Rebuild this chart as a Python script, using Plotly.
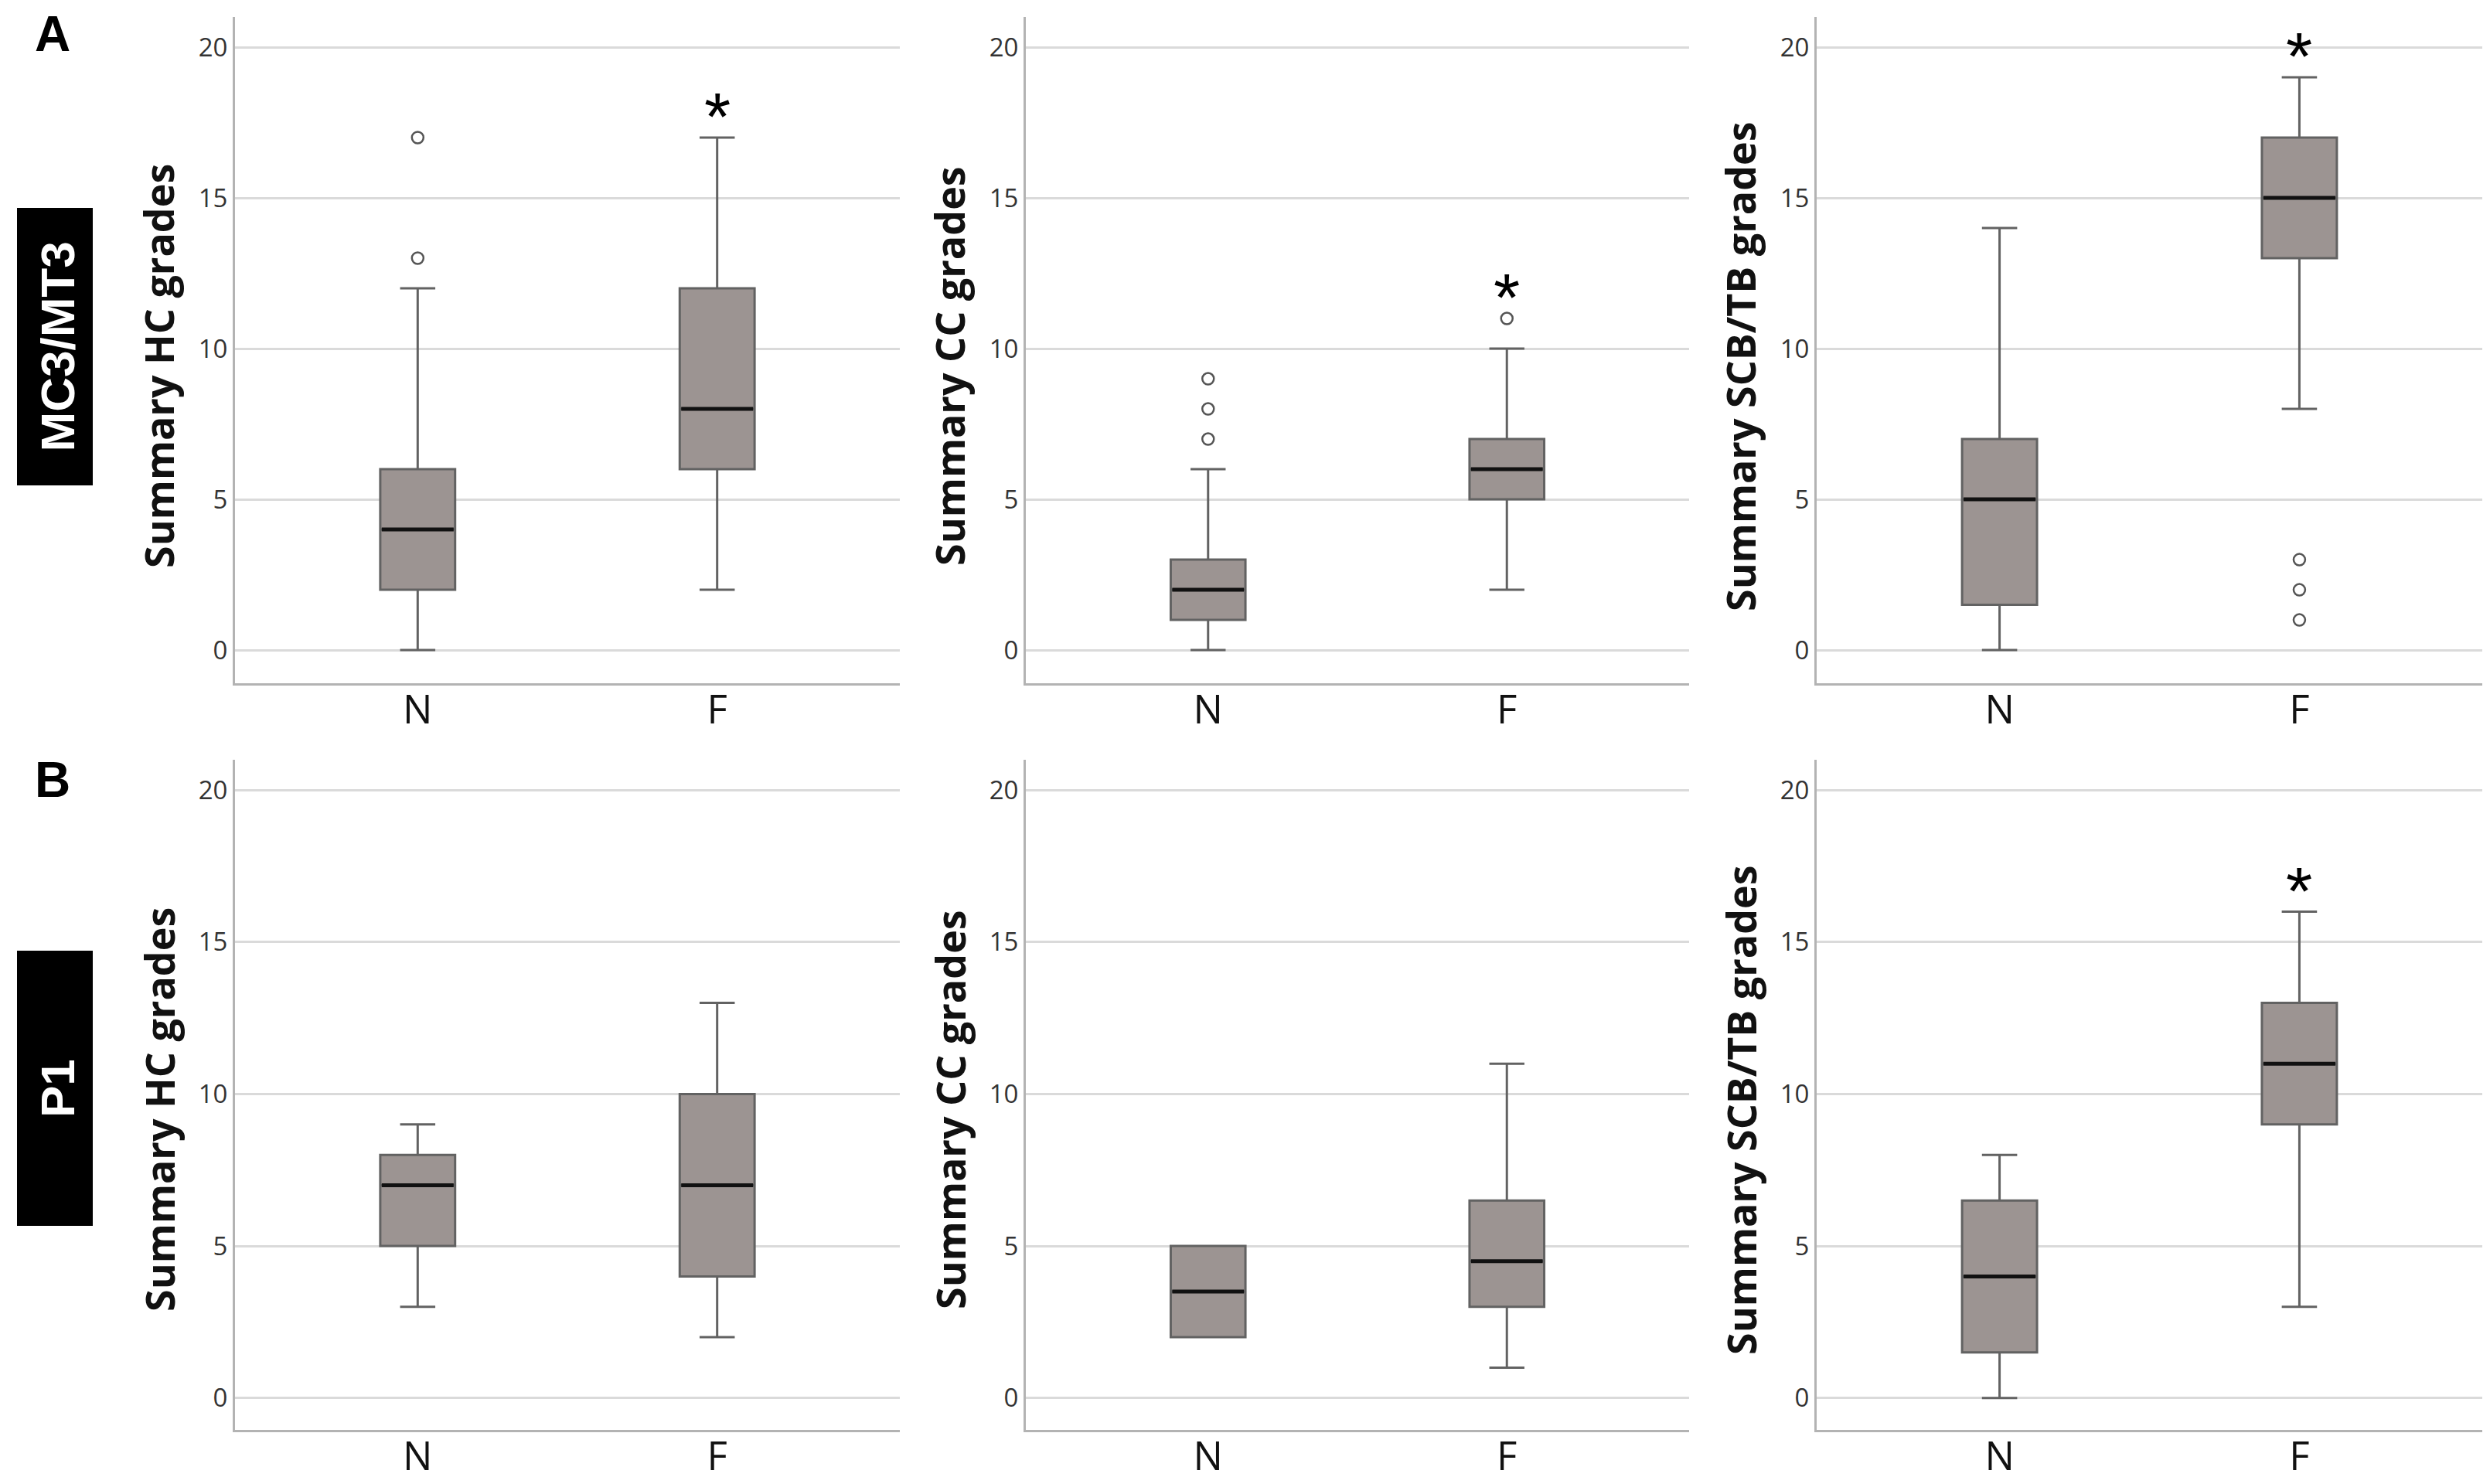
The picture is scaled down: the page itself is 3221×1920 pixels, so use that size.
import plotly.graph_objects as go

W, H = 3221, 1920

# ---------------- data ----------------
groups = ["N", "F"]
panel_titles = ["Summary HC grades", "Summary CC grades", "Summary SCB/TB grades"]
row_labels = ["MC3/MT3", "P1"]
row_letters = ["A", "B"]
y_ticks = [0, 5, 10, 15, 20]

# row A (MC3/MT3): [N, F]
a_lower  = [[0, 2], [0, 2], [0, 8]]
a_q1     = [[2, 6], [1, 5], [1.5, 13]]
a_median = [[4, 8], [2, 6], [5, 15]]
a_q3     = [[6, 12], [3, 7], [7, 17]]
a_upper  = [[12, 17], [6, 10], [14, 19]]
a_outliers = [[[13, 17], []], [[7, 8, 9], [11]], [[], [1, 2, 3]]]
a_signif = [[False, True], [False, True], [False, True]]

# row B (P1): [N, F]
b_lower  = [[3, 2], [2, 1], [0, 3]]
b_q1     = [[5, 4], [2, 3], [1.5, 9]]
b_median = [[7, 7], [3.5, 4.5], [4, 11]]
b_q3     = [[8, 10], [5, 6.5], [6.5, 13]]
b_upper  = [[9, 13], [5, 11], [8, 16]]
b_outliers = [[[], []], [[], []], [[], []]]
b_signif = [[False, False], [False, False], [False, True]]

rows = [
    (a_lower, a_q1, a_median, a_q3, a_upper, a_outliers, a_signif),
    (b_lower, b_q1, b_median, b_q3, b_upper, b_outliers, b_signif),
]

# ---------------- layout geometry (pixels) ----------------
col_x = [(296, 1156), (1319, 2177), (2342, 3203)]
row_y = [(14, 876), (975, 1842)]
y_ranges = [[-1.1, 21.0], [-1.05, 21.0]]
x_range = [-0.61, 1.61]
box_w = 0.25

BOX_FILL = "#9c9492"
BOX_LINE = "#626262"
GRID = "#dadada"
AXIS = "#b3b3b3"

def px(x):
    return x / W

def py(y):
    return 1 - y / H

fig = go.Figure()
layout = dict(
    width=W, height=H,
    margin=dict(l=0, r=0, t=0, b=0),
    paper_bgcolor="white", plot_bgcolor="white",
    showlegend=False,
    annotations=[], shapes=[],
)

idx = 0
for r, (lo, q1, med, q3, up, outl, sig) in enumerate(rows):
    for c in range(3):
        idx += 1
        xa = "x" if idx == 1 else f"x{idx}"
        ya = "y" if idx == 1 else f"y{idx}"
        xkey = "xaxis" if idx == 1 else f"xaxis{idx}"
        ykey = "yaxis" if idx == 1 else f"yaxis{idx}"
        x0, x1 = col_x[c]
        y0, y1 = row_y[r]
        layout[xkey] = dict(
            domain=[px(x0), px(x1)], anchor=ya, range=x_range,
            tickmode="array", tickvals=[0, 1], ticktext=groups,
            showgrid=False, zeroline=False, showline=True,
            linecolor=AXIS, linewidth=3, ticks="",
            ticklabelstandoff=-12,
            tickfont=dict(family="Open Sans", size=51, color="#111111"),
            fixedrange=True,
        )
        layout[ykey] = dict(
            domain=[py(y1), py(y0)], anchor=xa, range=y_ranges[r],
            tickmode="array", tickvals=y_ticks,
            showgrid=True, gridcolor=GRID, gridwidth=3,
            zeroline=False, showline=True, linecolor=AXIS, linewidth=3,
            ticks="", ticklen=0,
            tickfont=dict(family="Open Sans", size=33, color="#333333"),
            fixedrange=True,
        )
        for g in range(2):
            fig.add_trace(go.Box(
                x=[g], q1=[q1[c][g]], median=[med[c][g]], q3=[q3[c][g]],
                lowerfence=[lo[c][g]], upperfence=[up[c][g]],
                width=box_w, whiskerwidth=0.47,
                fillcolor=BOX_FILL, line=dict(color=BOX_LINE, width=3),
                boxpoints=False, xaxis=xa, yaxis=ya, hoverinfo="skip",
            ))
            # bold black median line
            fig.add_trace(go.Scatter(
                x=[g - box_w / 2 + 0.005, g + box_w / 2 - 0.005],
                y=[med[c][g], med[c][g]],
                mode="lines", line=dict(color="#111111", width=5),
                xaxis=xa, yaxis=ya, hoverinfo="skip",
            ))
            if outl[c][g]:
                fig.add_trace(go.Scatter(
                    x=[g] * len(outl[c][g]), y=outl[c][g], mode="markers",
                    marker=dict(symbol="circle-open", size=15,
                                color="#555555", line=dict(width=2.5, color="#555555")),
                    xaxis=xa, yaxis=ya, hoverinfo="skip",
                ))
            if sig[c][g]:
                top = max([up[c][g]] + outl[c][g])
                layout["annotations"].append(dict(
                    x=g, y=top, xref=xa, yref=ya, text="*", showarrow=False,
                    yanchor="bottom", yshift=-24,
                    font=dict(family="Liberation Sans", size=88, color="#000000"),
                ))
        # y-axis title
        layout["annotations"].append(dict(
            x=px(x0 - 99), y=py([466, 1428][r]), xref="paper", yref="paper",
            text=panel_titles[c], textangle=-90, showarrow=False,
            xanchor="center", yanchor="middle",
            font=dict(family="Open Sans", size=52, color="#111111", weight="bold"),
        ))

# row labels: letter and black tag
tag_y = [(261, 620), (1222, 1578)]
letter_y = [36, 1001]
for r in range(2):
    layout["annotations"].append(dict(
        x=px(60), y=py(letter_y[r]), xref="paper", yref="paper",
        text=row_letters[r], showarrow=False, xanchor="center", yanchor="middle",
        font=dict(family="Liberation Sans", size=64, color="#000000", weight="bold"),
    ))
    t0, t1 = tag_y[r]
    layout["shapes"].append(dict(
        type="rect", xref="paper", yref="paper",
        x0=px(14), x1=px(112), y0=py(t1), y1=py(t0),
        fillcolor="#000000", line=dict(width=0),
    ))
    layout["annotations"].append(dict(
        x=px(66), y=py((t0 + t1) / 2), xref="paper", yref="paper",
        text=row_labels[r], textangle=-90, showarrow=False,
        xanchor="center", yanchor="middle",
        font=dict(family="Liberation Sans Narrow, Liberation Sans", size=62,
                  color="#ffffff", weight="bold"),
    ))

fig.update_layout(**layout)
fig.write_html("out.html")
